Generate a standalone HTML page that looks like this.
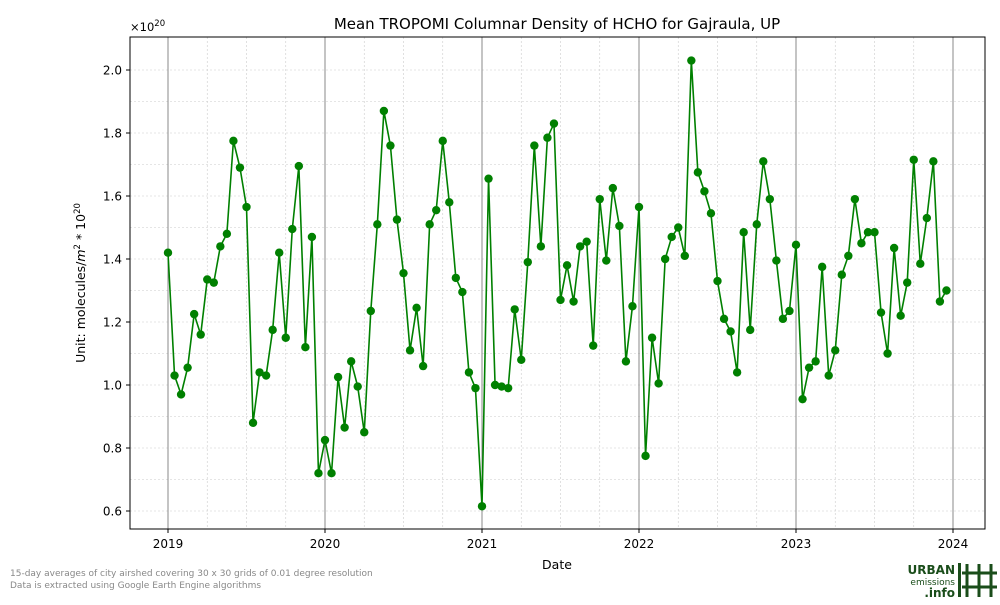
<!DOCTYPE html>
<html><head><meta charset="utf-8"><style>
body{margin:0;background:#fff;font-family:"Liberation Sans","DejaVu Sans",sans-serif;}
svg text{font-family:"DejaVu Sans","Liberation Sans",sans-serif;}
</style></head><body>
<svg id="chart" width="1000" height="600" viewBox="0 0 1000 600">
<rect width="1000" height="600" fill="#fff"/>
<text x="557" y="29" font-size="15" text-anchor="middle">Mean TROPOMI Columnar Density of HCHO for Gajraula, UP</text>
<g id="grid"></g>
<g id="axes"></g>
<g id="series"></g>
<rect x="130" y="37" width="855" height="492" fill="none" stroke="#000" stroke-width="1"/>
<text x="130" y="31" font-size="11.5">×10<tspan dy="-5" font-size="8.5">20</tspan></text>
<text x="557" y="569" font-size="12.5" text-anchor="middle">Date</text>
<text transform="translate(85,283) rotate(-90)" font-size="12.5" text-anchor="middle">Unit: molecules/<tspan font-style="italic">m</tspan><tspan dy="-5" font-size="8.5">2</tspan><tspan dy="5"> * 10</tspan><tspan dy="-5" font-size="8.5">20</tspan></text>
<text x="10" y="576" font-size="9" fill="#888">15-day averages of city airshed covering 30 x 30 grids of 0.01 degree resolution</text>
<text x="10" y="588" font-size="9" fill="#888">Data is extracted using Google Earth Engine algorithms</text>
<g>
<text x="955" y="574" font-size="12" font-weight="bold" fill="#1a4d1a" text-anchor="end">URBAN</text>
<text x="955" y="585" font-size="9" fill="#1a4d1a" text-anchor="end">emissions</text>
<text x="955" y="597" font-size="12" font-weight="bold" fill="#1a4d1a" text-anchor="end">.info</text>
<rect x="958" y="563" width="3" height="34" fill="#1a4d1a"/>
<g stroke="#1a4d1a" stroke-width="3"><line x1="967" y1="564" x2="967" y2="597"/><line x1="979" y1="564" x2="979" y2="597"/><line x1="962" y1="573" x2="997" y2="573"/><line x1="962" y1="587" x2="997" y2="587"/><line x1="991" y1="564" x2="991" y2="597"/></g>
</g>
</svg>
<script>
const startYear = 2019;
const yearTicks = [2019, 2020, 2021, 2022, 2023, 2024];
const valueTicks = [0.6, 0.8, 1.0, 1.2, 1.4, 1.6, 1.8, 2.0];
const hcho = [1.42,1.03,0.97,1.055,1.225,1.16,1.335,1.325,1.44,1.48,1.775,1.69,1.565,0.88,1.04,1.03,1.175,1.42,1.15,1.495,1.695,1.12,1.47,0.72,
0.825,0.72,1.025,0.865,1.075,0.995,0.85,1.235,1.51,1.87,1.76,1.525,1.355,1.11,1.245,1.06,1.51,1.555,1.775,1.58,1.34,1.295,1.04,0.99,
0.615,1.655,1.0,0.995,0.99,1.24,1.08,1.39,1.76,1.44,1.785,1.83,1.27,1.38,1.265,1.44,1.455,1.125,1.59,1.395,1.625,1.505,1.075,1.25,
1.565,0.775,1.15,1.005,1.40,1.47,1.50,1.41,2.03,1.675,1.615,1.545,1.33,1.21,1.17,1.04,1.485,1.175,1.51,1.71,1.59,1.395,1.21,1.235,
1.445,0.955,1.055,1.075,1.375,1.03,1.11,1.35,1.41,1.59,1.45,1.485,1.485,1.23,1.10,1.435,1.22,1.325,1.715,1.385,1.53,1.71,1.265,1.30];
const NS="http://www.w3.org/2000/svg";
function xScale(yr){return 168+(yr-2019)*157;}
function yScale(v){return 385-(v-1)*315;}
function mk(tag,attrs,parent){const e=document.createElementNS(NS,tag);for(const k in attrs)e.setAttribute(k,attrs[k]);parent.appendChild(e);return e;}
const grid=document.getElementById('grid'),axes=document.getElementById('axes'),series=document.getElementById('series');
for(let y=2018.75;y<=2024.2;y+=0.25){const x=xScale(y);if(x<131||x>984)continue;
 const l=mk('line',{x1:x,x2:x,y1:37,y2:529,stroke:'#ccc','stroke-width':0.6,'stroke-dasharray':'2,2'},grid);
 
 }
for(let v=0.6;v<=2.1;v+=0.1){const y=yScale(v);if(y<38||y>528)continue;
 const l=mk('line',{x1:130,x2:985,y1:y,y2:y,stroke:'#ccc','stroke-width':0.6,'stroke-dasharray':'2,2'},grid);
 
 }
yearTicks.forEach(yr=>{const x=xScale(yr);
 const l=mk('line',{x1:x,x2:x,y1:37,y2:529,stroke:'#888','stroke-width':1},grid);
 
 
 mk('line',{x1:x,x2:x,y1:529,y2:533,stroke:'#000'},axes);
 const t=mk('text',{x:x,y:548,'font-size':12,'text-anchor':'middle'},axes);t.textContent=yr;
 
 });
valueTicks.forEach(v=>{const y=yScale(v);
 mk('line',{x1:126,x2:130,y1:y,y2:y,stroke:'#000'},axes);
 const t=mk('text',{x:122,y:y+4.5,'font-size':12,'text-anchor':'end'},axes);t.textContent=v.toFixed(1);
 
 });
const pts=hcho.map((v,i)=>[xScale(startYear+i/24),yScale(v)]);
const pl=mk('polyline',{points:pts.map(p=>p.join(',')).join(' '),fill:'none',stroke:'#008000','stroke-width':1.6},series);


pts.forEach(p=>{const c=mk('circle',{cx:p[0],cy:p[1],r:4.2,fill:'#008000'},series);
 
 });
</script>
</body></html>
